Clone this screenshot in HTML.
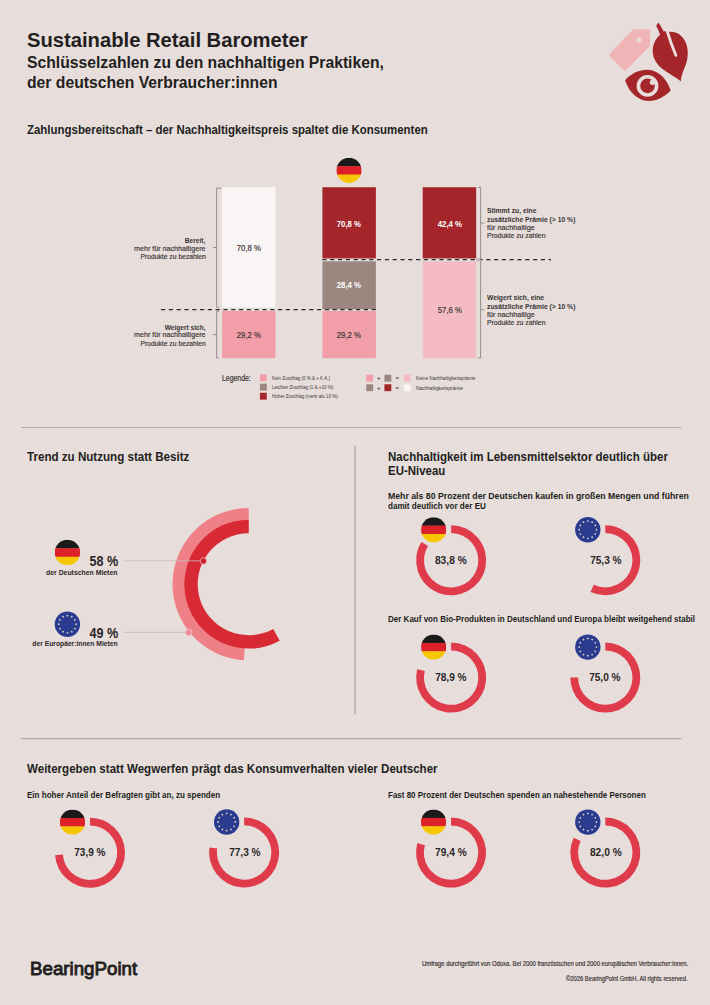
<!DOCTYPE html>
<html><head><meta charset="utf-8"><style>
html,body{margin:0;padding:0;}
body{width:710px;height:1005px;position:relative;overflow:hidden;background:#e7dedc;font-family:"Liberation Sans",sans-serif;}
.t{position:absolute;white-space:nowrap;}
.t span{display:inline-block;}
</style></head><body>
<svg width="710" height="1005" viewBox="0 0 710 1005" style="position:absolute;left:0;top:0"><defs><clipPath id="c1"><circle cx="349" cy="170.4" r="12.6"/></clipPath><clipPath id="c2"><circle cx="67.4" cy="552.5" r="12.7"/></clipPath><clipPath id="c3"><circle cx="433.65" cy="529.8" r="12.6"/></clipPath><clipPath id="c4"><circle cx="433.65" cy="647.1" r="12.6"/></clipPath><clipPath id="c5"><circle cx="72.5" cy="822.2" r="12.6"/></clipPath><clipPath id="c6"><circle cx="433.55" cy="822.1" r="12.6"/></clipPath></defs><g><path d="M634,29.3 L648.4,29.3 Q650,29.3 650,31 L650,46.2 L626,70.1 Q624.6,71.5 623.2,70.1 L609.8,56.3 Q608.5,55 609.8,53.6 L632.6,30 Q633.2,29.3 634,29.3 Z" fill="#f0b4b6"/><circle cx="638.9" cy="40" r="2.5" fill="#e7dedc"/><path d="M660.8,34 C655.5,38.5 652.5,45 652.7,51.5 C653,59 657,64.5 662,68.5 C668,73.5 676,77 680.9,81.5 C681,75 684,70 686,64 C688.5,57 688.5,47 685,41 C682,35.5 676.5,31.5 670.4,31.9 L665,31 Z" fill="#a5262a"/><path d="M667,30.5 Q670.5,42.5 675.9,55.4" stroke="#e7dedc" stroke-width="2.8" fill="none" stroke-linecap="round"/><path d="M656.2,25.7 L658.5,22.6 Q662.2,28.3 665.9,35.6 L660.5,35.5 Q658.6,30.2 656.2,25.7 Z" fill="#a5262a"/><g transform="translate(647.9,85.4) rotate(12.9)"><path d="M-23.4,0 C-11,-20.5 11,-20.5 23.4,0 C11,20.5 -11,20.5 -23.4,0 Z" fill="#a5262a"/></g><circle cx="647.5" cy="85.9" r="10.9" fill="#e7dedc"/><circle cx="647.5" cy="85.9" r="7.3" fill="#a5262a"/><circle cx="652.4" cy="82.3" r="2.6" fill="#e7dedc"/></g><rect x="222" y="187.2" width="53.5" height="120.3" fill="#f8f5f4"/><rect x="222" y="311" width="53.5" height="47.2" fill="#f19ea8"/><rect x="322.4" y="187.2" width="53.5" height="71.2" fill="#a5262a"/><rect x="322.4" y="261.3" width="53.5" height="47.9" fill="#9b877f"/><rect x="322.4" y="311" width="53.5" height="47.2" fill="#f19ea8"/><rect x="422.7" y="187.2" width="53.5" height="71.2" fill="#a5262a"/><rect x="422.7" y="261.3" width="53.5" height="96.9" fill="#f4bcc2"/><line x1="161" y1="309.6" x2="376" y2="309.6" stroke="#2e2a2a" stroke-width="1.3" stroke-dasharray="4.2 3.6"/><line x1="322.4" y1="259.6" x2="551" y2="259.6" stroke="#2e2a2a" stroke-width="1.3" stroke-dasharray="4.2 3.6"/><path d="M221.4,188.2 L216.6,188.2 L216.6,307.4 L219,307.4 M219,311.2 L216.6,311.2 L216.6,358 L219,358 M212.9,247.5 L216.6,247.5 M212.9,334.7 L216.6,334.7" stroke="#8f8585" stroke-width="0.9" fill="none"/><path d="M478,187.4 L480.6,187.4 L480.6,358 L478,358 M480.6,223.1 L484.4,223.1 M480.6,309.8 L484.4,309.8" stroke="#8f8585" stroke-width="0.9" fill="none"/><g clip-path="url(#c1)"><rect x="336.4" y="157.8" width="25.2" height="8.700000000000001" fill="#1b1a1a"/><rect x="336.4" y="166.20000000000002" width="25.2" height="8.700000000000001" fill="#dc2128"/><rect x="336.4" y="174.60000000000002" width="25.2" height="8.4" fill="#f6c700"/></g><rect x="476.3" y="258.3" width="4" height="3" fill="#c4b8b8"/><rect x="259.9" y="374.35" width="6.9" height="6.9" fill="#f19ea8"/><rect x="259.9" y="383.65" width="6.9" height="6.9" fill="#9b877f"/><rect x="259.9" y="392.75" width="6.9" height="6.9" fill="#a5262a"/><rect x="366.2" y="374.75" width="6.9" height="6.9" fill="#f19ea8"/><rect x="384.4" y="374.75" width="6.9" height="6.9" fill="#9b877f"/><rect x="403.8" y="374.75" width="6.9" height="6.9" fill="#f4bcc2"/><rect x="366.2" y="384.25" width="6.9" height="6.9" fill="#9b877f"/><rect x="384.4" y="384.25" width="6.9" height="6.9" fill="#a5262a"/><rect x="403.8" y="384.25" width="6.9" height="6.9" fill="#f8f5f4"/><line x1="21" y1="427.5" x2="681.5" y2="427.5" stroke="#b5abaa" stroke-width="1.1"/><line x1="355.1" y1="445.7" x2="355.1" y2="714.3" stroke="#b0a5a4" stroke-width="1.2"/><line x1="21" y1="738.6" x2="681.5" y2="738.6" stroke="#b5abaa" stroke-width="1.1"/><path d="M248.70,508.00 A76.2,76.2 0 0 0 243.92,660.25 L245.43,636.10 A52,52 0 0 1 248.70,532.20 Z" fill="#ef8087"/><path d="M248.70,519.80 A64.4,64.4 0 1 0 279.72,640.63 L273.27,628.89 A51.0,51.0 0 1 1 248.70,533.20 Z" fill="#d82a35"/><line x1="124" y1="560.8" x2="203" y2="560.8" stroke="#c9b9b8" stroke-width="0.8"/><line x1="124" y1="632.3" x2="188.7" y2="632.3" stroke="#c9b9b8" stroke-width="0.8"/><circle cx="203.4" cy="561" r="3.2" fill="#c8202b" stroke="#f3b5b8" stroke-width="0.8"/><circle cx="188.75" cy="632.5" r="3.2" fill="#f08a90" stroke="#f7c9cb" stroke-width="0.8"/><g clip-path="url(#c2)"><rect x="54.7" y="539.8" width="25.4" height="8.766666666666667" fill="#1b1a1a"/><rect x="54.7" y="548.2666666666667" width="25.4" height="8.766666666666667" fill="#dc2128"/><rect x="54.7" y="556.7333333333332" width="25.4" height="8.466666666666667" fill="#f6c700"/></g><circle cx="67.4" cy="624.2" r="12.7" fill="#2a3b90"/><circle cx="67.40" cy="615.56" r="0.89" fill="#ddd7bf"/><circle cx="71.72" cy="616.72" r="0.89" fill="#ddd7bf"/><circle cx="74.88" cy="619.88" r="0.89" fill="#ddd7bf"/><circle cx="76.04" cy="624.20" r="0.89" fill="#ddd7bf"/><circle cx="74.88" cy="628.52" r="0.89" fill="#ddd7bf"/><circle cx="71.72" cy="631.68" r="0.89" fill="#ddd7bf"/><circle cx="67.40" cy="632.84" r="0.89" fill="#ddd7bf"/><circle cx="63.08" cy="631.68" r="0.89" fill="#ddd7bf"/><circle cx="59.92" cy="628.52" r="0.89" fill="#ddd7bf"/><circle cx="58.76" cy="624.20" r="0.89" fill="#ddd7bf"/><circle cx="59.92" cy="619.88" r="0.89" fill="#ddd7bf"/><circle cx="63.08" cy="616.72" r="0.89" fill="#ddd7bf"/><path d="M451.15,525.30 A35.0,35.0 0 1 1 421.37,541.91 L428.01,546.01 A27.2,27.2 0 1 0 451.15,533.10 Z" fill="#e03b4a"/><g clip-path="url(#c3)"><rect x="421.04999999999995" y="517.1999999999999" width="25.2" height="8.700000000000001" fill="#1b1a1a"/><rect x="421.04999999999995" y="525.5999999999999" width="25.2" height="8.700000000000001" fill="#dc2128"/><rect x="421.04999999999995" y="533.9999999999999" width="25.2" height="8.4" fill="#f6c700"/></g><path d="M605.30,525.20 A35.0,35.0 0 1 1 590.51,591.92 L593.80,584.85 A27.2,27.2 0 1 0 605.30,533.00 Z" fill="#e03b4a"/><circle cx="587.8" cy="529.7" r="12.7" fill="#2a3b90"/><circle cx="587.80" cy="521.06" r="0.89" fill="#ddd7bf"/><circle cx="592.12" cy="522.22" r="0.89" fill="#ddd7bf"/><circle cx="595.28" cy="525.38" r="0.89" fill="#ddd7bf"/><circle cx="596.44" cy="529.70" r="0.89" fill="#ddd7bf"/><circle cx="595.28" cy="534.02" r="0.89" fill="#ddd7bf"/><circle cx="592.12" cy="537.18" r="0.89" fill="#ddd7bf"/><circle cx="587.80" cy="538.34" r="0.89" fill="#ddd7bf"/><circle cx="583.48" cy="537.18" r="0.89" fill="#ddd7bf"/><circle cx="580.32" cy="534.02" r="0.89" fill="#ddd7bf"/><circle cx="579.16" cy="529.70" r="0.89" fill="#ddd7bf"/><circle cx="580.32" cy="525.38" r="0.89" fill="#ddd7bf"/><circle cx="583.48" cy="522.22" r="0.89" fill="#ddd7bf"/><path d="M451.15,642.60 A35.0,35.0 0 1 1 417.19,669.13 L424.76,671.02 A27.2,27.2 0 1 0 451.15,650.40 Z" fill="#e03b4a"/><g clip-path="url(#c4)"><rect x="421.04999999999995" y="634.5" width="25.2" height="8.700000000000001" fill="#1b1a1a"/><rect x="421.04999999999995" y="642.9" width="25.2" height="8.700000000000001" fill="#dc2128"/><rect x="421.04999999999995" y="651.3" width="25.2" height="8.4" fill="#f6c700"/></g><path d="M605.30,642.60 A35.0,35.0 0 1 1 570.30,677.60 L578.10,677.60 A27.2,27.2 0 1 0 605.30,650.40 Z" fill="#e03b4a"/><circle cx="587.8" cy="647.1" r="12.7" fill="#2a3b90"/><circle cx="587.80" cy="638.46" r="0.89" fill="#ddd7bf"/><circle cx="592.12" cy="639.62" r="0.89" fill="#ddd7bf"/><circle cx="595.28" cy="642.78" r="0.89" fill="#ddd7bf"/><circle cx="596.44" cy="647.10" r="0.89" fill="#ddd7bf"/><circle cx="595.28" cy="651.42" r="0.89" fill="#ddd7bf"/><circle cx="592.12" cy="654.58" r="0.89" fill="#ddd7bf"/><circle cx="587.80" cy="655.74" r="0.89" fill="#ddd7bf"/><circle cx="583.48" cy="654.58" r="0.89" fill="#ddd7bf"/><circle cx="580.32" cy="651.42" r="0.89" fill="#ddd7bf"/><circle cx="579.16" cy="647.10" r="0.89" fill="#ddd7bf"/><circle cx="580.32" cy="642.78" r="0.89" fill="#ddd7bf"/><circle cx="583.48" cy="639.62" r="0.89" fill="#ddd7bf"/><path d="M90.00,817.70 A35.0,35.0 0 1 1 55.09,855.14 L62.87,854.60 A27.2,27.2 0 1 0 90.00,825.50 Z" fill="#e03b4a"/><g clip-path="url(#c5)"><rect x="59.9" y="809.6" width="25.2" height="8.700000000000001" fill="#1b1a1a"/><rect x="59.9" y="818.0" width="25.2" height="8.700000000000001" fill="#dc2128"/><rect x="59.9" y="826.4" width="25.2" height="8.4" fill="#f6c700"/></g><path d="M244.15,817.50 A35.0,35.0 0 1 1 209.52,847.45 L217.23,848.57 A27.2,27.2 0 1 0 244.15,825.30 Z" fill="#e03b4a"/><circle cx="226.65" cy="822.0" r="12.7" fill="#2a3b90"/><circle cx="226.65" cy="813.36" r="0.89" fill="#ddd7bf"/><circle cx="230.97" cy="814.52" r="0.89" fill="#ddd7bf"/><circle cx="234.13" cy="817.68" r="0.89" fill="#ddd7bf"/><circle cx="235.29" cy="822.00" r="0.89" fill="#ddd7bf"/><circle cx="234.13" cy="826.32" r="0.89" fill="#ddd7bf"/><circle cx="230.97" cy="829.48" r="0.89" fill="#ddd7bf"/><circle cx="226.65" cy="830.64" r="0.89" fill="#ddd7bf"/><circle cx="222.33" cy="829.48" r="0.89" fill="#ddd7bf"/><circle cx="219.17" cy="826.32" r="0.89" fill="#ddd7bf"/><circle cx="218.01" cy="822.00" r="0.89" fill="#ddd7bf"/><circle cx="219.17" cy="817.68" r="0.89" fill="#ddd7bf"/><circle cx="222.33" cy="814.52" r="0.89" fill="#ddd7bf"/><path d="M451.05,817.60 A35.0,35.0 0 1 1 417.37,843.07 L424.88,845.19 A27.2,27.2 0 1 0 451.05,825.40 Z" fill="#e03b4a"/><g clip-path="url(#c6)"><rect x="420.95" y="809.5" width="25.2" height="8.700000000000001" fill="#1b1a1a"/><rect x="420.95" y="817.9" width="25.2" height="8.700000000000001" fill="#dc2128"/><rect x="420.95" y="826.3" width="25.2" height="8.4" fill="#f6c700"/></g><path d="M605.30,817.60 A35.0,35.0 0 1 1 573.63,837.70 L580.69,841.02 A27.2,27.2 0 1 0 605.30,825.40 Z" fill="#e03b4a"/><circle cx="587.8" cy="822.1" r="12.7" fill="#2a3b90"/><circle cx="587.80" cy="813.46" r="0.89" fill="#ddd7bf"/><circle cx="592.12" cy="814.62" r="0.89" fill="#ddd7bf"/><circle cx="595.28" cy="817.78" r="0.89" fill="#ddd7bf"/><circle cx="596.44" cy="822.10" r="0.89" fill="#ddd7bf"/><circle cx="595.28" cy="826.42" r="0.89" fill="#ddd7bf"/><circle cx="592.12" cy="829.58" r="0.89" fill="#ddd7bf"/><circle cx="587.80" cy="830.74" r="0.89" fill="#ddd7bf"/><circle cx="583.48" cy="829.58" r="0.89" fill="#ddd7bf"/><circle cx="580.32" cy="826.42" r="0.89" fill="#ddd7bf"/><circle cx="579.16" cy="822.10" r="0.89" fill="#ddd7bf"/><circle cx="580.32" cy="817.78" r="0.89" fill="#ddd7bf"/><circle cx="583.48" cy="814.62" r="0.89" fill="#ddd7bf"/></svg>
<div class="t" style="left:27.00px;top:30.21px;font-size:20.35px;line-height:20.35px;font-weight:700;color:#231f20;"><span id="s0" style="transform:scaleX(0.9929);transform-origin:left">Sustainable Retail Barometer</span></div><div class="t" style="left:27.00px;top:53.90px;font-size:16.42px;line-height:16.42px;font-weight:700;color:#231f20;"><span id="s1" style="transform:scaleX(0.9571);transform-origin:left">Schlüsselzahlen zu den nachhaltigen Praktiken,</span></div><div class="t" style="left:27.00px;top:74.40px;font-size:16.42px;line-height:16.42px;font-weight:700;color:#231f20;"><span id="s2" style="transform:scaleX(0.9573);transform-origin:left">der deutschen Verbraucher:innen</span></div><div class="t" style="left:27.00px;top:124.01px;font-size:12.50px;line-height:12.50px;font-weight:700;color:#231f20;"><span id="s3" style="transform:scaleX(0.9158);transform-origin:left">Zahlungsbereitschaft – der Nachhaltigkeitspreis spaltet die Konsumenten</span></div><div class="t" style="right:504.30px;top:237.00px;font-size:7.85px;line-height:7.85px;font-weight:700;color:#3a3435;"><span id="s4" style="transform:scaleX(0.8458);transform-origin:right">Bereit,</span></div><div class="t" style="right:504.30px;top:244.80px;font-size:7.85px;line-height:7.85px;font-weight:400;color:#3a3435;-webkit-text-stroke:0.18px #3a3435;"><span id="s5" style="transform:scaleX(0.9103);transform-origin:right">mehr für nachhaltigere</span></div><div class="t" style="right:504.30px;top:252.80px;font-size:7.85px;line-height:7.85px;font-weight:400;color:#3a3435;-webkit-text-stroke:0.18px #3a3435;"><span id="s6" style="transform:scaleX(0.8632);transform-origin:right">Produkte zu bezahlen</span></div><div class="t" style="right:504.30px;top:323.50px;font-size:7.85px;line-height:7.85px;font-weight:700;color:#3a3435;"><span id="s7" style="transform:scaleX(0.8429);transform-origin:right">Weigert sich,</span></div><div class="t" style="right:504.30px;top:331.41px;font-size:7.85px;line-height:7.85px;font-weight:400;color:#3a3435;-webkit-text-stroke:0.18px #3a3435;"><span id="s8" style="transform:scaleX(0.9103);transform-origin:right">mehr für nachhaltigere</span></div><div class="t" style="right:504.30px;top:339.50px;font-size:7.85px;line-height:7.85px;font-weight:400;color:#3a3435;-webkit-text-stroke:0.18px #3a3435;"><span id="s9" style="transform:scaleX(0.8632);transform-origin:right">Produkte zu bezahlen</span></div><div class="t" style="left:486.90px;top:207.30px;font-size:7.85px;line-height:7.85px;font-weight:700;color:#3a3435;"><span id="s10" style="transform:scaleX(0.8603);transform-origin:left">Stimmt zu, eine</span></div><div class="t" style="left:486.90px;top:215.71px;font-size:7.85px;line-height:7.85px;font-weight:700;color:#3a3435;"><span id="s11" style="transform:scaleX(0.8647);transform-origin:left">zusätzliche Prämie (&gt; 10 %)</span></div><div class="t" style="left:486.90px;top:223.80px;font-size:7.85px;line-height:7.85px;font-weight:400;color:#3a3435;-webkit-text-stroke:0.18px #3a3435;"><span id="s12" style="transform:scaleX(0.9275);transform-origin:left">für nachhaltige</span></div><div class="t" style="left:486.90px;top:231.71px;font-size:7.85px;line-height:7.85px;font-weight:400;color:#3a3435;-webkit-text-stroke:0.18px #3a3435;"><span id="s13" style="transform:scaleX(0.8701);transform-origin:left">Produkte zu zahlen</span></div><div class="t" style="left:486.90px;top:294.30px;font-size:7.85px;line-height:7.85px;font-weight:700;color:#3a3435;"><span id="s14" style="transform:scaleX(0.8582);transform-origin:left">Weigert sich, eine</span></div><div class="t" style="left:486.90px;top:302.71px;font-size:7.85px;line-height:7.85px;font-weight:700;color:#3a3435;"><span id="s15" style="transform:scaleX(0.8647);transform-origin:left">zusätzliche Prämie (&gt; 10 %)</span></div><div class="t" style="left:486.90px;top:310.80px;font-size:7.85px;line-height:7.85px;font-weight:400;color:#3a3435;-webkit-text-stroke:0.18px #3a3435;"><span id="s16" style="transform:scaleX(0.9275);transform-origin:left">für nachhaltige</span></div><div class="t" style="left:486.90px;top:318.71px;font-size:7.85px;line-height:7.85px;font-weight:400;color:#3a3435;-webkit-text-stroke:0.18px #3a3435;"><span id="s17" style="transform:scaleX(0.8701);transform-origin:left">Produkte zu zahlen</span></div><div class="t" style="left:-51.40px;width:600px;text-align:center;top:242.91px;font-size:9.59px;line-height:9.59px;font-weight:400;color:#3a3435;-webkit-text-stroke:0.18px #3a3435;"><span id="s18" style="transform:scaleX(0.8133);transform-origin:center">70,8 %</span></div><div class="t" style="left:-51.40px;width:600px;text-align:center;top:329.70px;font-size:9.59px;line-height:9.59px;font-weight:400;color:#3a3435;-webkit-text-stroke:0.18px #3a3435;"><span id="s19" style="transform:scaleX(0.8133);transform-origin:center">29,2 %</span></div><div class="t" style="left:49.10px;width:600px;text-align:center;top:218.50px;font-size:9.59px;line-height:9.59px;font-weight:700;color:#ffffff;"><span id="s20" style="transform:scaleX(0.8133);transform-origin:center">70,8 %</span></div><div class="t" style="left:49.10px;width:600px;text-align:center;top:280.00px;font-size:9.59px;line-height:9.59px;font-weight:700;color:#ffffff;"><span id="s21" style="transform:scaleX(0.8133);transform-origin:center">28,4 %</span></div><div class="t" style="left:49.10px;width:600px;text-align:center;top:329.70px;font-size:9.59px;line-height:9.59px;font-weight:400;color:#3a3435;-webkit-text-stroke:0.18px #3a3435;"><span id="s22" style="transform:scaleX(0.8133);transform-origin:center">29,2 %</span></div><div class="t" style="left:149.50px;width:600px;text-align:center;top:218.50px;font-size:9.59px;line-height:9.59px;font-weight:700;color:#ffffff;"><span id="s23" style="transform:scaleX(0.8133);transform-origin:center">42,4 %</span></div><div class="t" style="left:149.50px;width:600px;text-align:center;top:305.00px;font-size:9.59px;line-height:9.59px;font-weight:400;color:#3a3435;-webkit-text-stroke:0.18px #3a3435;"><span id="s24" style="transform:scaleX(0.8133);transform-origin:center">57,6 %</span></div><div class="t" style="left:221.80px;top:374.41px;font-size:8.43px;line-height:8.43px;font-weight:400;color:#3a3435;-webkit-text-stroke:0.18px #3a3435;"><span id="s25" style="transform:scaleX(0.8171);transform-origin:left">Legende:</span></div><div class="t" style="left:272.10px;top:376.61px;font-size:4.94px;line-height:4.94px;font-weight:400;color:#3a3435;"><span id="s26" style="transform:scaleX(0.9047);transform-origin:left">Kein Zuschlag (0 % &amp; + K.A.)</span></div><div class="t" style="left:272.10px;top:385.90px;font-size:4.94px;line-height:4.94px;font-weight:400;color:#3a3435;"><span id="s27" style="transform:scaleX(0.9224);transform-origin:left">Leichter Zuschlag (1 &amp; +10 %)</span></div><div class="t" style="left:272.10px;top:395.00px;font-size:4.94px;line-height:4.94px;font-weight:400;color:#3a3435;"><span id="s28" style="transform:scaleX(0.9254);transform-origin:left">Hoher Zuschlag (mehr als 10 %)</span></div><div class="t" style="left:416.00px;top:377.00px;font-size:4.94px;line-height:4.94px;font-weight:400;color:#3a3435;"><span id="s29" style="transform:scaleX(0.9492);transform-origin:left">Keine Nachhaltigkeitsprämie</span></div><div class="t" style="left:416.00px;top:386.50px;font-size:4.94px;line-height:4.94px;font-weight:400;color:#3a3435;"><span id="s30" style="transform:scaleX(0.9673);transform-origin:left">Nachhaltigkeitsprämie</span></div><div class="t" style="left:78.60px;width:600px;text-align:center;top:376.21px;font-size:5.81px;line-height:5.81px;font-weight:700;color:#3a3435;"><span id="s31" style="transform:scaleX(1.0000);transform-origin:center">+</span></div><div class="t" style="left:78.60px;width:600px;text-align:center;top:385.71px;font-size:5.81px;line-height:5.81px;font-weight:700;color:#3a3435;"><span id="s32" style="transform:scaleX(1.0000);transform-origin:center">+</span></div><div class="t" style="left:97.30px;width:600px;text-align:center;top:376.21px;font-size:5.81px;line-height:5.81px;font-weight:700;color:#3a3435;"><span id="s33" style="transform:scaleX(1.0000);transform-origin:center">=</span></div><div class="t" style="left:97.30px;width:600px;text-align:center;top:385.71px;font-size:5.81px;line-height:5.81px;font-weight:700;color:#3a3435;"><span id="s34" style="transform:scaleX(1.0000);transform-origin:center">=</span></div><div class="t" style="left:27.00px;top:450.71px;font-size:12.35px;line-height:12.35px;font-weight:700;color:#231f20;"><span id="s35" style="transform:scaleX(0.9393);transform-origin:left">Trend zu Nutzung statt Besitz</span></div><div class="t" style="right:592.40px;top:554.10px;font-size:14.53px;line-height:14.53px;font-weight:700;color:#2b2626;"><span id="s36" style="transform:scaleX(0.8667);transform-origin:right">58 %</span></div><div class="t" style="right:592.40px;top:568.51px;font-size:7.56px;line-height:7.56px;font-weight:700;color:#2b2626;"><span id="s37" style="transform:scaleX(0.9103);transform-origin:right">der Deutschen Mieten</span></div><div class="t" style="right:592.40px;top:625.90px;font-size:14.53px;line-height:14.53px;font-weight:700;color:#2b2626;"><span id="s38" style="transform:scaleX(0.8667);transform-origin:right">49 %</span></div><div class="t" style="right:592.40px;top:640.21px;font-size:7.56px;line-height:7.56px;font-weight:700;color:#2b2626;"><span id="s39" style="transform:scaleX(0.8917);transform-origin:right">der Europäer:innen Mieten</span></div><div class="t" style="left:388.00px;top:450.71px;font-size:12.35px;line-height:12.35px;font-weight:700;color:#231f20;"><span id="s40" style="transform:scaleX(0.9340);transform-origin:left">Nachhaltigkeit im Lebensmittelsektor deutlich über</span></div><div class="t" style="left:388.00px;top:465.40px;font-size:12.35px;line-height:12.35px;font-weight:700;color:#231f20;"><span id="s41" style="transform:scaleX(0.9274);transform-origin:left">EU-Niveau</span></div><div class="t" style="left:388.00px;top:493.00px;font-size:8.14px;line-height:8.14px;font-weight:700;color:#231f20;"><span id="s42" style="transform:scaleX(1.0732);transform-origin:left">Mehr als 80 Prozent der Deutschen kaufen in großen Mengen und führen</span></div><div class="t" style="left:388.00px;top:503.21px;font-size:8.14px;line-height:8.14px;font-weight:700;color:#231f20;"><span id="s43" style="transform:scaleX(0.9949);transform-origin:left">damit deutlich vor der EU</span></div><div class="t" style="left:388.00px;top:615.80px;font-size:8.14px;line-height:8.14px;font-weight:700;color:#231f20;"><span id="s44" style="transform:scaleX(0.9871);transform-origin:left">Der Kauf von Bio-Produkten in Deutschland und Europa bleibt weitgehend stabil</span></div><div class="t" style="left:27.00px;top:762.51px;font-size:12.35px;line-height:12.35px;font-weight:700;color:#231f20;"><span id="s45" style="transform:scaleX(0.9362);transform-origin:left">Weitergeben statt Wegwerfen prägt das Konsumverhalten vieler Deutscher</span></div><div class="t" style="left:27.00px;top:791.80px;font-size:8.14px;line-height:8.14px;font-weight:700;color:#231f20;"><span id="s46" style="transform:scaleX(0.9897);transform-origin:left">Ein hoher Anteil der Befragten gibt an, zu spenden</span></div><div class="t" style="left:387.50px;top:791.80px;font-size:8.14px;line-height:8.14px;font-weight:700;color:#231f20;"><span id="s47" style="transform:scaleX(0.9828);transform-origin:left">Fast 80 Prozent der Deutschen spenden an nahestehende Personen</span></div><div class="t" style="left:151.00px;width:600px;text-align:center;top:554.80px;font-size:11.48px;line-height:11.48px;font-weight:700;color:#2b2626;"><span id="s48" style="transform:scaleX(0.8917);transform-origin:center">83,8 %</span></div><div class="t" style="left:306.20px;width:600px;text-align:center;top:554.91px;font-size:11.48px;line-height:11.48px;font-weight:700;color:#2b2626;"><span id="s49" style="transform:scaleX(0.8806);transform-origin:center">75,3 %</span></div><div class="t" style="left:151.25px;width:600px;text-align:center;top:672.21px;font-size:11.48px;line-height:11.48px;font-weight:700;color:#2b2626;"><span id="s50" style="transform:scaleX(0.8806);transform-origin:center">78,9 %</span></div><div class="t" style="left:305.25px;width:600px;text-align:center;top:672.21px;font-size:11.48px;line-height:11.48px;font-weight:700;color:#2b2626;"><span id="s51" style="transform:scaleX(0.8806);transform-origin:center">75,0 %</span></div><div class="t" style="left:-210.00px;width:600px;text-align:center;top:847.30px;font-size:11.48px;line-height:11.48px;font-weight:700;color:#2b2626;"><span id="s52" style="transform:scaleX(0.8778);transform-origin:center">73,9 %</span></div><div class="t" style="left:-54.75px;width:600px;text-align:center;top:847.01px;font-size:11.48px;line-height:11.48px;font-weight:700;color:#2b2626;"><span id="s53" style="transform:scaleX(0.8806);transform-origin:center">77,3 %</span></div><div class="t" style="left:151.15px;width:600px;text-align:center;top:847.11px;font-size:11.48px;line-height:11.48px;font-weight:700;color:#2b2626;"><span id="s54" style="transform:scaleX(0.8861);transform-origin:center">79,4 %</span></div><div class="t" style="left:306.00px;width:600px;text-align:center;top:847.11px;font-size:11.48px;line-height:11.48px;font-weight:700;color:#2b2626;"><span id="s55" style="transform:scaleX(0.8917);transform-origin:center">82,0 %</span></div><div class="t" style="left:30.00px;top:960.20px;font-size:18.90px;line-height:18.90px;font-weight:400;color:#231f20;-webkit-text-stroke:0.9px #231f20;"><span id="s56" style="transform:scaleX(0.9907);transform-origin:left">BearingPoint</span></div><div class="t" style="right:22.00px;top:961.01px;font-size:6.40px;line-height:6.40px;font-weight:400;color:#3a3435;-webkit-text-stroke:0.18px #3a3435;"><span id="s57" style="transform:scaleX(0.9204);transform-origin:right">Umfrage durchgeführt von Odoxa. Bei 2000 französischen und 2000 europäischen Verbraucher:innen.</span></div><div class="t" style="right:22.00px;top:975.60px;font-size:6.40px;line-height:6.40px;font-weight:400;color:#3a3435;-webkit-text-stroke:0.18px #3a3435;"><span id="s58" style="transform:scaleX(0.9104);transform-origin:right">©2026 BearingPoint GmbH. All rights reserved.</span></div>
</body></html>
